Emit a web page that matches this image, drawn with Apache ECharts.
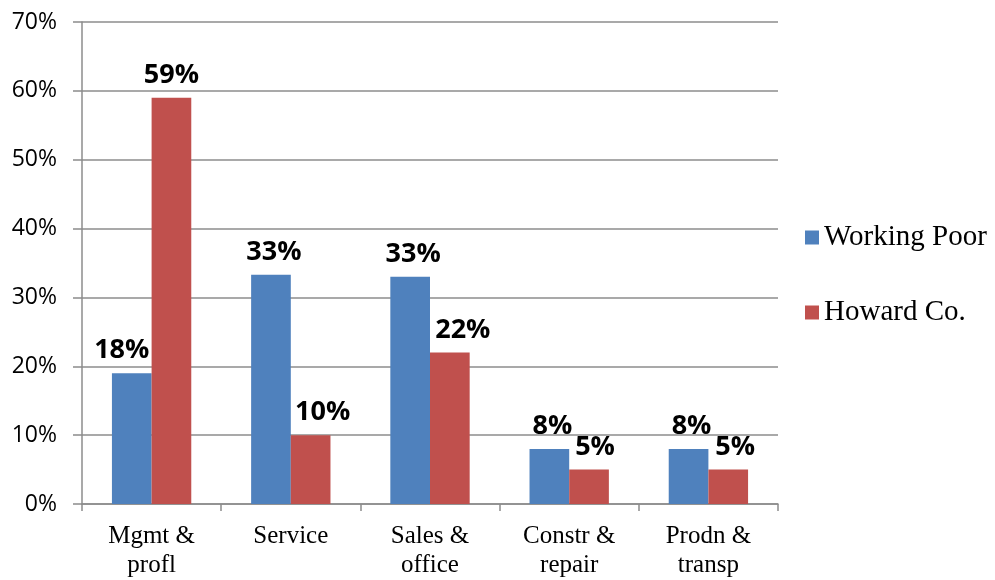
<!DOCTYPE html>
<html>
<head>
<meta charset="utf-8">
<script src="https://cdn.jsdelivr.net/npm/echarts@6/dist/echarts.min.js"></script>
<style>
  html, body { margin: 0; padding: 0; background: #fff; }
  #chart { width: 995px; height: 580px; }
</style>
</head>
<body>
<div id="chart"></div>
<script>
const categories = ['Mgmt &\nprofl', 'Service', 'Sales &\noffice', 'Constr &\nrepair', 'Prodn &\ntransp'];
const workingPoor = [19, 33.3, 33, 8, 8];
const howardCo = [59, 10, 22, 5, 5];
// printed labels as shown in the picture
const workingPoorLabels = ['18%', '33%', '33%', '8%', '8%'];
const howardLabels = ['59%', '10%', '22%', '5%', '5%'];
const yTicks = [0, 10, 20, 30, 40, 50, 60, 70];

// small horizontal nudges of the value labels
const wpShift = [-10, 3, 3, 3, 3];
const hcShift = [0, 12, 13, 6, 7];

function buildData(vals, labels, shift) {
  return vals.map((v, i) => ({
    value: v,
    label: { formatter: labels[i], offset: [shift[i], 0] }
  }));
}

const chart = echarts.init(document.getElementById('chart'));
const gray = '#8c8c8c';
const valueLabel = {
  show: true, position: 'top', distance: 9,
  fontFamily: 'Open Sans', fontWeight: 'bold', fontSize: 27, color: '#000'
};
chart.setOption({
  animation: false,
  backgroundColor: '#fff',
  grid: { left: 82, right: 217, top: 22, bottom: 75 },
  legend: {
    orient: 'vertical',
    left: 805,
    top: 223,
    padding: 0,
    itemWidth: 14,
    itemHeight: 14,
    itemGap: 46,
    icon: 'rect',
    data: ['Working Poor', 'Howard Co.'],
    textStyle: { fontFamily: 'Liberation Serif', fontSize: 29, color: '#000' }
  },
  xAxis: {
    type: 'category',
    data: categories,
    axisLine: { lineStyle: { color: gray, width: 1.5 } },
    axisTick: { show: true, length: 7, lineStyle: { color: gray, width: 1.5 } },
    axisLabel: {
      fontFamily: 'Liberation Serif', fontSize: 25, color: '#000',
      lineHeight: 29, margin: 18
    }
  },
  yAxis: {
    type: 'value',
    min: yTicks[0],
    max: yTicks[yTicks.length - 1],
    interval: 10,
    axisLine: { show: true, lineStyle: { color: gray, width: 1.5 } },
    axisTick: { show: true, length: 9, lineStyle: { color: gray, width: 1.5 } },
    splitLine: { lineStyle: { color: gray, width: 1.5 } },
    axisLabel: {
      fontFamily: 'Open Sans', fontSize: 23, color: '#000', margin: 25,
      formatter: '{value}%'
    }
  },
  series: [
    {
      name: 'Working Poor',
      type: 'bar',
      data: buildData(workingPoor, workingPoorLabels, wpShift),
      itemStyle: { color: '#4F81BD' },
      barGap: '0%',
      barCategoryGap: '43%',
      label: valueLabel
    },
    {
      name: 'Howard Co.',
      type: 'bar',
      data: buildData(howardCo, howardLabels, hcShift),
      itemStyle: { color: '#C0504D' },
      barGap: '0%',
      barCategoryGap: '43%',
      label: valueLabel
    }
  ]
});
</script>
</body>
</html>
